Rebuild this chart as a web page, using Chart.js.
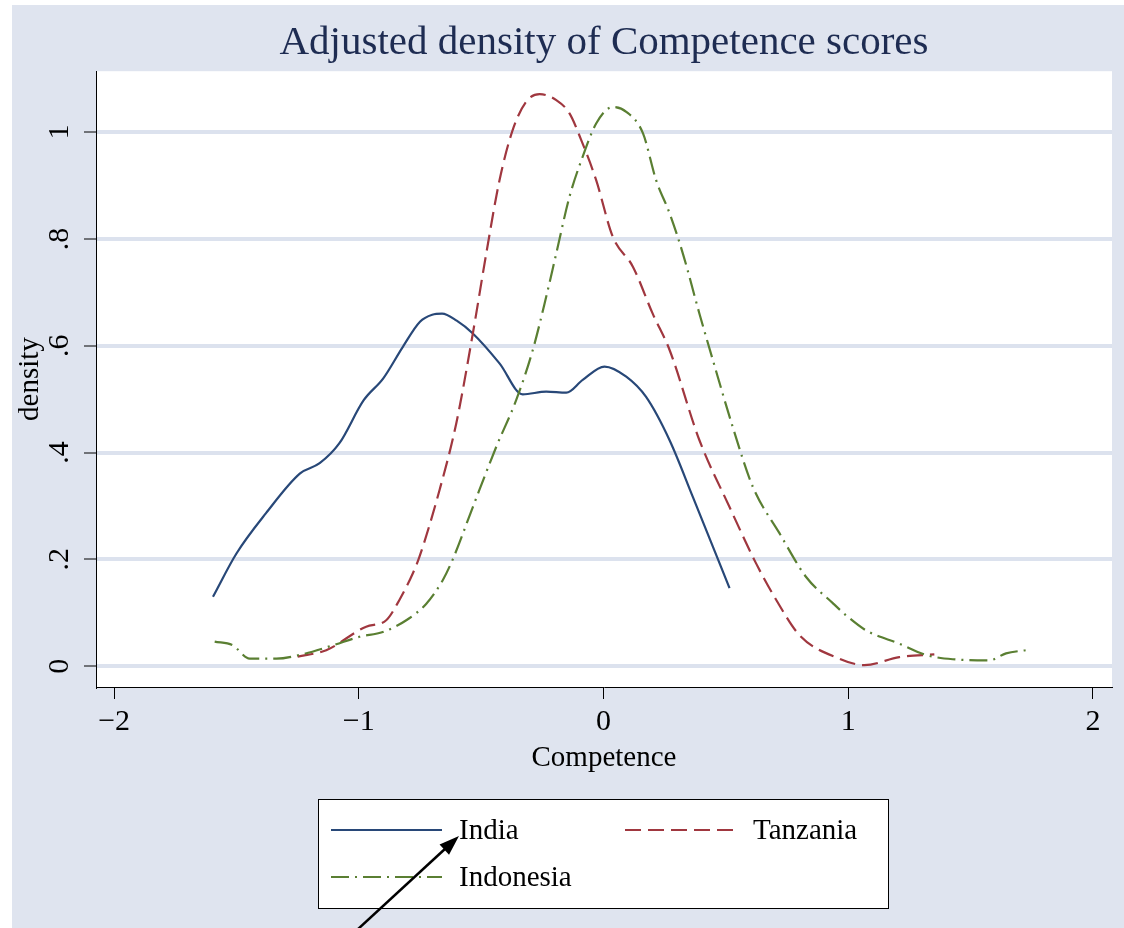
<!DOCTYPE html>
<html>
<head>
<meta charset="utf-8">
<script src="https://cdn.jsdelivr.net/npm/chart.js@4.4.0/dist/chart.umd.min.js"></script>
<style>
  html, body { margin: 0; padding: 0; background: #fff; }
</style>
</head>
<body>
<canvas id="grafico" width="1124" height="928"></canvas>
<script>
// datos (densidad ajustada por país)
const tituloGrafico = "Adjusted density of Competence scores"
const tituloX = "Competence"
const tituloY = "density"

const paises = ["India", "Tanzania", "Indonesia"]

const indiaX = [-1.596, -1.50, -1.38, -1.24, -1.16, -1.08, -0.98, -0.90, -0.82, -0.75, -0.70, -0.66, -0.60, -0.534, -0.425, -0.33, -0.234, -0.152, -0.085, 0.004, 0.093, 0.174, 0.270, 0.365, 0.515]
const indiaY = [0.130, 0.211, 0.286, 0.361, 0.380, 0.417, 0.498, 0.539, 0.598, 0.645, 0.658, 0.660, 0.647, 0.623, 0.567, 0.509, 0.514, 0.512, 0.536, 0.561, 0.542, 0.504, 0.423, 0.317, 0.146]

const tanzaniaX = [-1.25, -1.133, -0.97, -0.888, -0.834, -0.779, -0.752, -0.670, -0.602, -0.534, -0.479, -0.425, -0.371, -0.316, -0.261, -0.193, -0.139, -0.091, -0.030, 0.038, 0.120, 0.201, 0.270, 0.392, 0.515, 0.624, 0.706, 0.801, 0.964, 1.066, 1.209, 1.352]
const tanzaniaY = [0.018, 0.030, 0.074, 0.086, 0.124, 0.174, 0.205, 0.330, 0.454, 0.623, 0.773, 0.910, 1.004, 1.057, 1.071, 1.060, 1.035, 0.985, 0.910, 0.804, 0.748, 0.660, 0.592, 0.423, 0.298, 0.192, 0.124, 0.058, 0.014, 0.002, 0.017, 0.022]

const indonesiaX = [-1.589, -1.515, -1.446, -1.337, -1.242, -1.106, -0.997, -0.902, -0.806, -0.724, -0.657, -0.616, -0.534, -0.438, -0.357, -0.289, -0.234, -0.193, -0.139, -0.085, -0.030, 0.038, 0.093, 0.161, 0.215, 0.270, 0.324, 0.392, 0.447, 0.528, 0.610, 0.719, 0.828, 0.937, 0.992, 1.073, 1.209, 1.318, 1.427, 1.577, 1.645, 1.727]
const indonesiaY = [0.046, 0.039, 0.014, 0.014, 0.021, 0.039, 0.055, 0.064, 0.086, 0.117, 0.161, 0.200, 0.298, 0.411, 0.498, 0.592, 0.692, 0.773, 0.879, 0.954, 1.016, 1.047, 1.038, 0.998, 0.910, 0.848, 0.773, 0.660, 0.573, 0.448, 0.336, 0.249, 0.167, 0.118, 0.095, 0.067, 0.042, 0.021, 0.013, 0.011, 0.024, 0.030]

const xTicks = [-2, -1, 0, 1, 2]
const xTickLabels = ["\u22122", "\u22121", "0", "1", "2"]
const yTicks = [0, 0.2, 0.4, 0.6, 0.8, 1]
const yTickLabels = ["0", ".2", ".4", ".6", ".8", "1"]

const colorFondo = "#dfe4ef"
const fuente = "'Liberation Serif', 'Times New Roman', serif"

function puntos(xs, ys) {
    return xs.map((x, i) => ({ x: x, y: ys[i] }))
}

//fondo estilo stata
const fondoPlugin = {
    id: "fondo",
    beforeDraw(chart) {
        const { ctx, chartArea } = chart
        ctx.save()
        ctx.fillStyle = "#fff"
        ctx.fillRect(0, 0, chart.width, chart.height)
        ctx.fillStyle = colorFondo
        ctx.fillRect(12, 5, chart.width - 12, chart.height - 5)
        ctx.fillStyle = "#fff"
        ctx.fillRect(chartArea.left, chartArea.top, chartArea.right - chartArea.left, chartArea.bottom - chartArea.top)
        ctx.restore()
    }
}

//leyenda con recuadro y flecha
const leyendaPlugin = {
    id: "leyenda",
    afterDraw(chart) {
        const ctx = chart.ctx
        ctx.save()
        ctx.fillStyle = "#fff"
        ctx.fillRect(318, 799, 570, 109)
        ctx.strokeStyle = "#000"
        ctx.lineWidth = 1
        ctx.strokeRect(318.5, 799.5, 570, 109)

        const pos = [
            { x: 331, y: 830 },
            { x: 625, y: 830 },
            { x: 331, y: 877 }
        ]
        chart.data.datasets.forEach((ds, i) => {
            const p = pos[i]
            ctx.beginPath()
            ctx.setLineDash(ds.borderDash || [])
            ctx.strokeStyle = ds.borderColor
            ctx.lineWidth = 2
            ctx.moveTo(p.x, p.y)
            ctx.lineTo(p.x + 111, p.y)
            ctx.stroke()
            ctx.setLineDash([])
            ctx.fillStyle = "#000"
            ctx.font = "29px " + fuente
            ctx.textBaseline = "middle"
            ctx.fillText(ds.label, p.x + 128, p.y + 1)
        })

        // flecha
        const x0 = 357, y0 = 930, x1 = 459, y1 = 836
        const ang = Math.atan2(y1 - y0, x1 - x0)
        ctx.beginPath()
        ctx.strokeStyle = "#000"
        ctx.lineWidth = 2.5
        ctx.moveTo(x0, y0)
        ctx.lineTo(x1 - 14 * Math.cos(ang), y1 - 14 * Math.sin(ang))
        ctx.stroke()
        ctx.beginPath()
        ctx.fillStyle = "#000"
        ctx.moveTo(x1, y1)
        ctx.lineTo(x1 - 20 * Math.cos(ang) + 7 * Math.sin(ang), y1 - 20 * Math.sin(ang) - 7 * Math.cos(ang))
        ctx.lineTo(x1 - 20 * Math.cos(ang) - 7 * Math.sin(ang), y1 - 20 * Math.sin(ang) + 7 * Math.cos(ang))
        ctx.closePath()
        ctx.fill()
        ctx.restore()
    }
}

const datasets = [
    {
        label: paises[0],
        data: puntos(indiaX, indiaY),
        borderColor: "#284878",
        borderWidth: 2.2,
        order: 3
    },
    {
        label: paises[1],
        data: puntos(tanzaniaX, tanzaniaY),
        borderColor: "#a0373f",
        borderWidth: 2.2,
        borderDash: [16, 7],
        order: 2
    },
    {
        label: paises[2],
        data: puntos(indonesiaX, indonesiaY),
        borderColor: "#5a7f32",
        borderWidth: 2.2,
        borderDash: [18, 6, 2, 6],
        order: 1
    }
]
datasets.forEach(ds => {
    ds.showLine = true
    ds.pointRadius = 0
    ds.fill = false
    ds.cubicInterpolationMode = "monotone"
})

const config = {
    type: "scatter",
    data: { datasets: datasets },
    options: {
        responsive: false,
        animation: false,
        layout: { padding: { left: 0, top: 0, right: 12, bottom: 0 } },
        plugins: {
            legend: { display: false },
            tooltip: { enabled: false },
            title: {
                display: true,
                text: tituloGrafico,
                fullSize: false,
                color: "#1e2c52",
                font: { family: fuente, size: 41, weight: "normal" },
                padding: { top: 19, bottom: 3 }
            }
        },
        scales: {
            x: {
                type: "linear",
                min: -2.074,
                max: 2.078,
                afterBuildTicks: s => { s.ticks = xTicks.map(v => ({ value: v })) },
                afterFit: s => { s.height = 241 },
                ticks: {
                    callback: v => xTickLabels[xTicks.indexOf(v)],
                    color: "#000",
                    font: { family: fuente, size: 30 },
                    padding: 5,
                    maxRotation: 0,
                    autoSkip: false
                },
                grid: { drawOnChartArea: false, tickLength: 12, tickColor: "#000", tickWidth: 1 },
                border: { color: "#000", width: 1 },
                title: {
                    display: true,
                    text: tituloX,
                    color: "#000",
                    font: { family: fuente, size: 29 },
                    padding: { top: 0, bottom: 152 }
                }
            },
            y: {
                type: "linear",
                min: -0.039,
                max: 1.114,
                afterBuildTicks: s => { s.ticks = yTicks.map(v => ({ value: v })) },
                afterFit: s => { s.width = 96 },
                ticks: {
                    callback: v => yTickLabels[yTicks.indexOf(v)],
                    color: "#000",
                    font: { family: fuente, size: 30 },
                    padding: 13,
                    minRotation: 90,
                    maxRotation: 90,
                    crossAlign: "center",
                    autoSkip: false
                },
                grid: { color: "#dce2ee", lineWidth: 4, tickLength: 12, tickColor: "#000", tickWidth: 1 },
                border: { color: "#000", width: 1 },
                title: {
                    display: true,
                    text: tituloY,
                    color: "#000",
                    font: { family: fuente, size: 29 },
                    padding: { top: 13, bottom: 0 }
                }
            }
        }
    },
    plugins: [fondoPlugin, leyendaPlugin]
}

const grafico = new Chart(document.getElementById("grafico"), config)
</script>
</body>
</html>
